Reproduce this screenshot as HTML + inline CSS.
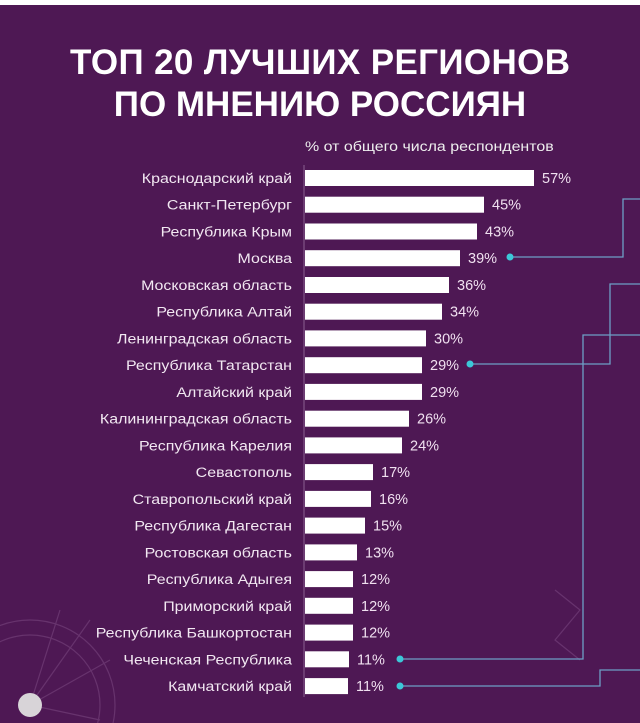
<!DOCTYPE html>
<html><head><meta charset="utf-8"><style>
html,body{margin:0;padding:0;background:#fff;width:640px;height:723px;overflow:hidden;}
svg{position:absolute;left:0;top:0;}
text{font-family:"Liberation Sans","DejaVu Sans",sans-serif;}
.l{font-size:14px;fill:#f2e8f2;text-anchor:end;}
.v{font-size:14.5px;fill:#f0e0f0;}
</style></head><body>
<svg width="640" height="723" xmlns="http://www.w3.org/2000/svg" style="display:block">
<rect x="0" y="5" width="640" height="718" fill="#4e1854"/>
<g fill="none" stroke="#6e3a74" stroke-width="1.2" opacity="0.8">
<circle cx="30" cy="705" r="85"/>
<circle cx="30" cy="705" r="70"/>
<line x1="30" y1="705" x2="90" y2="620"/>
<line x1="30" y1="705" x2="110" y2="660"/>
<line x1="30" y1="705" x2="60" y2="610"/>
<line x1="30" y1="705" x2="100" y2="720"/>
<polyline points="555,590 580,610 555,640 580,660"/>
</g>
<circle cx="30" cy="705" r="12" fill="#d8d4d8"/>
<text x="320" y="74" font-size="35" font-weight="bold" text-anchor="middle" fill="#fff" textLength="500">ТОП 20 ЛУЧШИХ РЕГИОНОВ</text>
<text x="320" y="116" font-size="35" font-weight="bold" text-anchor="middle" fill="#fff">ПО МНЕНИЮ РОССИЯН</text>
<g transform="translate(305,0) scale(1.14,1) translate(-305,0)">
<text x="305" y="151" font-size="14" fill="#eee">% от общего числа респондентов</text>
</g>
<g fill="none" stroke="#6d9fc5" stroke-width="1.3">
<polyline points="510,257 623,257 623,199 640,199"/>
<polyline points="470,364 610,364 610,284 640,284"/>
<polyline points="400,659 583,659 583,335 640,335"/>
<polyline points="400,686 600,686 600,670 640,670"/>
</g>
<g fill="#3cc8d8">
<circle cx="510" cy="257" r="3.5"/><circle cx="470" cy="364" r="3.5"/>
<circle cx="400" cy="659" r="3.5"/><circle cx="400" cy="686" r="3.5"/>
</g>
<line x1="304" y1="165" x2="304" y2="697" stroke="#8a6090" stroke-width="1"/>
<g fill="#fff">
<rect x="305" y="170" width="229" height="16"/>
<rect x="305" y="196.7" width="179" height="16"/>
<rect x="305" y="223.5" width="172" height="16"/>
<rect x="305" y="250.2" width="155" height="16"/>
<rect x="305" y="277" width="144" height="16"/>
<rect x="305" y="303.7" width="137" height="16"/>
<rect x="305" y="330.4" width="121" height="16"/>
<rect x="305" y="357.2" width="117" height="16"/>
<rect x="305" y="383.9" width="117" height="16"/>
<rect x="305" y="410.7" width="104" height="16"/>
<rect x="305" y="437.4" width="97" height="16"/>
<rect x="305" y="464.1" width="68" height="16"/>
<rect x="305" y="490.9" width="66" height="16"/>
<rect x="305" y="517.6" width="60" height="16"/>
<rect x="305" y="544.4" width="52" height="16"/>
<rect x="305" y="571.1" width="48" height="16"/>
<rect x="305" y="597.8" width="48" height="16"/>
<rect x="305" y="624.6" width="48" height="16"/>
<rect x="305" y="651.3" width="44" height="16"/>
<rect x="305" y="678.1" width="43" height="16"/>
</g>
<g transform="translate(292,0) scale(1.14,1) translate(-292,0)">
<text class="l" x="292" y="183">Краснодарский край</text>
<text class="l" x="292" y="209.7">Санкт-Петербург</text>
<text class="l" x="292" y="236.5">Республика Крым</text>
<text class="l" x="292" y="263.2">Москва</text>
<text class="l" x="292" y="290">Московская область</text>
<text class="l" x="292" y="316.7">Республика Алтай</text>
<text class="l" x="292" y="343.4">Ленинградская область</text>
<text class="l" x="292" y="370.2">Республика Татарстан</text>
<text class="l" x="292" y="396.9">Алтайский край</text>
<text class="l" x="292" y="423.7">Калининградская область</text>
<text class="l" x="292" y="450.4">Республика Карелия</text>
<text class="l" x="292" y="477.1">Севастополь</text>
<text class="l" x="292" y="503.9">Ставропольский край</text>
<text class="l" x="292" y="530.6">Республика Дагестан</text>
<text class="l" x="292" y="557.4">Ростовская область</text>
<text class="l" x="292" y="584.1">Республика Адыгея</text>
<text class="l" x="292" y="610.8">Приморский край</text>
<text class="l" x="292" y="637.6">Республика Башкортостан</text>
<text class="l" x="292" y="664.3">Чеченская Республика</text>
<text class="l" x="292" y="691.1">Камчатский край</text>
</g>
<text class="v" x="542" y="183">57%</text>
<text class="v" x="492" y="209.7">45%</text>
<text class="v" x="485" y="236.5">43%</text>
<text class="v" x="468" y="263.2">39%</text>
<text class="v" x="457" y="290">36%</text>
<text class="v" x="450" y="316.7">34%</text>
<text class="v" x="434" y="343.4">30%</text>
<text class="v" x="430" y="370.2">29%</text>
<text class="v" x="430" y="396.9">29%</text>
<text class="v" x="417" y="423.7">26%</text>
<text class="v" x="410" y="450.4">24%</text>
<text class="v" x="381" y="477.1">17%</text>
<text class="v" x="379" y="503.9">16%</text>
<text class="v" x="373" y="530.6">15%</text>
<text class="v" x="365" y="557.4">13%</text>
<text class="v" x="361" y="584.1">12%</text>
<text class="v" x="361" y="610.8">12%</text>
<text class="v" x="361" y="637.6">12%</text>
<text class="v" x="357" y="664.3">11%</text>
<text class="v" x="356" y="691.1">11%</text>
</svg>
</body></html>
